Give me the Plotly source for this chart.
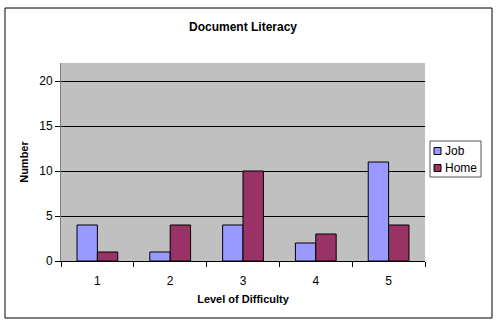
import plotly.graph_objects as go

categories = [1, 2, 3, 4, 5]
job = [4, 1, 4, 2, 11]
home = [1, 4, 10, 3, 4]
tick_labels = ["1", "2", "3", "4", "5"]
series_names = ["Job", "Home"]
series_colors = ["#9999FF", "#993366"]

fig = go.Figure()
for name, vals, col in zip(series_names, [job, home], series_colors):
    fig.add_bar(x=categories, y=vals, name=name,
                marker=dict(color=col, line=dict(color="black", width=1)))

# plot area in pixels: x 61..425, y 63..261
L, R, T, B = 61, 425, 63, 261
def px(x):
    return (x - L) / (R - L)
def py(y):
    return (B - y) / (B - T)

font = "Liberation Sans, Arial, sans-serif"

shapes = [
    # outer chart border
    dict(type="rect", xref="paper", yref="paper",
         x0=px(5), x1=px(492), y0=py(318), y1=py(8),
         line=dict(color="black", width=1), fillcolor="rgba(0,0,0,0)", layer="below"),
    # legend box
    dict(type="rect", xref="paper", yref="paper",
         x0=px(430), x1=px(481), y0=py(177), y1=py(141),
         line=dict(color="#555", width=1), fillcolor="white"),
]
annotations = []
for i, (name, col) in enumerate(zip(series_names, series_colors)):
    cy = 151 + i * 17
    shapes.append(dict(type="rect", xref="paper", yref="paper",
                       x0=px(434), x1=px(441), y0=py(cy + 3.5), y1=py(cy - 3.5),
                       line=dict(color="black", width=1), fillcolor=col))
    annotations.append(dict(text=name, xref="paper", yref="paper", x=px(443), y=py(cy),
                            xanchor="left", yanchor="middle", showarrow=False,
                            font=dict(size=12, family=font, color="black")))

fig.update_layout(
    width=500, height=325,
    margin=dict(l=L, r=500 - R, t=T, b=325 - B, autoexpand=False),
    paper_bgcolor="white", plot_bgcolor="#C0C0C0",
    barmode="group", bargap=0.44, bargroupgap=0,
    font=dict(family=font, size=11, color="black"),
    title=dict(text="<b>Document Literacy</b>", x=0.5, xref="paper", xanchor="center",
               y=1 - 27/325, yanchor="middle", font=dict(size=12)),
    showlegend=False,
    xaxis=dict(range=[0.5, 5.5], tickmode="array", tickvals=categories, ticktext=tick_labels,
               ticks="", showgrid=False, showline=True, linecolor="black", linewidth=1,
               zeroline=False, ticklabelstandoff=9, tickfont=dict(size=12),
               minor=dict(tickmode="array", tickvals=[0.5, 1.5, 2.5, 3.5, 4.5, 5.5],
                          ticks="outside", ticklen=5, tickcolor="black", showgrid=False),
               title=dict(text="<b>Level of Difficulty</b>", font=dict(size=11), standoff=7)),
    yaxis=dict(range=[0, 22], tickvals=[0, 5, 10, 15, 20], ticks="outside", ticklen=5,
               tickcolor="black", showgrid=True, gridcolor="black", gridwidth=1,
               showline=True, linecolor="gray", linewidth=1, zeroline=False,
               tickfont=dict(size=12),
               title=dict(text="<b>Number</b>", font=dict(size=11), standoff=8)),
    shapes=shapes,
    annotations=annotations,
)
fig.write_html("out.html")
